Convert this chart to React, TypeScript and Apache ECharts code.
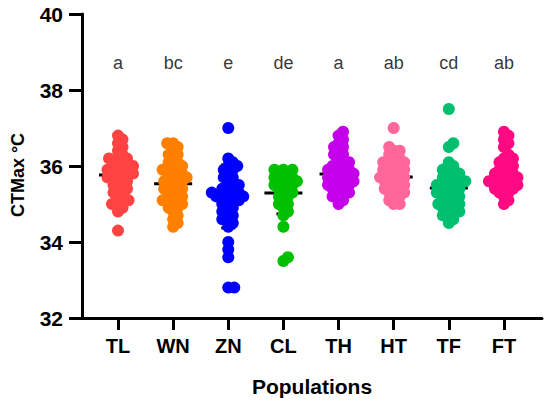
import React, { useEffect, useRef } from "react";
import * as echarts from "echarts";

const categories = ["TL", "WN", "ZN", "CL", "TH", "HT", "TF", "FT"];
const letters = ["a", "bc", "e", "de", "a", "ab", "cd", "ab"];
const colors = ["#FF4343", "#FF8000", "#0000FF", "#00C000", "#C400EA", "#FF6699", "#00C070", "#FF0A82"];
const means = [35.76, 35.53, 35.2, 35.29, 35.79, 35.71, 35.42, 35.68];
const sds = [0.5, 0.5, 0.83, 0.55, 0.45, 0.45, 0.6, 0.4];
const yTicks = [32, 34, 36, 38, 40];
const letterLevel = 38.7;

const tlValues = [36.8, 36.7, 36.6, 36.5, 36.4, 36.3, 36.2, 36.2, 36.2, 36.1, 36.1, 36.0, 36.0, 36.0, 35.9, 35.9, 35.9, 35.8, 35.8, 35.8, 35.7, 35.7, 35.7, 35.6, 35.6, 35.5, 35.5, 35.4, 35.4, 35.3, 35.3, 35.2, 35.1, 35.1, 35.0, 35.0, 34.9, 34.8, 34.3];
const wnValues = [36.6, 36.6, 36.5, 36.4, 36.3, 36.3, 36.2, 36.1, 36.1, 36.0, 36.0, 35.9, 35.9, 35.9, 35.8, 35.8, 35.7, 35.7, 35.7, 35.6, 35.6, 35.6, 35.5, 35.5, 35.4, 35.4, 35.4, 35.3, 35.3, 35.2, 35.2, 35.1, 35.1, 35.1, 35.0, 35.0, 34.9, 34.9, 34.8, 34.7, 34.6, 34.5, 34.4];
const znValues = [37.0, 36.2, 36.1, 36.0, 36.0, 35.9, 35.9, 35.8, 35.7, 35.7, 35.6, 35.5, 35.5, 35.4, 35.4, 35.3, 35.3, 35.3, 35.2, 35.2, 35.2, 35.2, 35.1, 35.1, 35.0, 35.0, 34.9, 34.8, 34.8, 34.7, 34.6, 34.6, 34.5, 34.4, 34.0, 33.8, 33.6, 32.8, 32.8];
const clValues = [35.9, 35.9, 35.9, 35.8, 35.8, 35.7, 35.7, 35.7, 35.6, 35.6, 35.6, 35.5, 35.5, 35.5, 35.4, 35.4, 35.3, 35.3, 35.2, 35.2, 35.1, 35.0, 35.0, 34.9, 34.8, 34.7, 34.4, 33.6, 33.5];
const thValues = [36.9, 36.8, 36.7, 36.6, 36.5, 36.5, 36.4, 36.3, 36.3, 36.2, 36.1, 36.1, 36.0, 36.0, 35.9, 35.9, 35.9, 35.8, 35.8, 35.8, 35.7, 35.7, 35.7, 35.6, 35.6, 35.6, 35.5, 35.5, 35.5, 35.4, 35.4, 35.3, 35.3, 35.2, 35.2, 35.1, 35.0];
const htValues = [37.0, 36.5, 36.4, 36.4, 36.3, 36.2, 36.2, 36.1, 36.1, 36.1, 36.0, 36.0, 35.9, 35.9, 35.9, 35.8, 35.8, 35.7, 35.7, 35.7, 35.6, 35.6, 35.6, 35.5, 35.5, 35.4, 35.4, 35.4, 35.3, 35.3, 35.2, 35.2, 35.1, 35.0, 35.0];
const tfValues = [37.5, 36.6, 36.5, 36.1, 36.0, 35.9, 35.9, 35.8, 35.8, 35.7, 35.7, 35.6, 35.6, 35.6, 35.5, 35.5, 35.5, 35.4, 35.4, 35.3, 35.3, 35.3, 35.2, 35.2, 35.1, 35.1, 35.0, 35.0, 35.0, 34.9, 34.9, 34.8, 34.8, 34.7, 34.7, 34.6, 34.5];
const ftValues = [36.9, 36.8, 36.7, 36.6, 36.5, 36.3, 36.2, 36.2, 36.1, 36.1, 36.0, 36.0, 35.9, 35.9, 35.8, 35.8, 35.8, 35.7, 35.7, 35.7, 35.6, 35.6, 35.6, 35.6, 35.5, 35.5, 35.5, 35.4, 35.4, 35.4, 35.3, 35.3, 35.2, 35.1, 35.0];

const groups = [tlValues, wnValues, znValues, clValues, thValues, htValues, tfValues, ftValues];

// layout constants
const W = 550;
const H = 404;
const GRID_LEFT = 82;
const GRID_RIGHT = 8;
const GRID_TOP = 14;
const GRID_BOTTOM = 86;
const X_MIN = -0.653;
const X_MAX = 7.69;
const Y_MIN = 32;
const Y_MAX = 40;
const PX_PER_CAT = (W - GRID_LEFT - GRID_RIGHT) / (X_MAX - X_MIN);
const PX_PER_DEG = (H - GRID_TOP - GRID_BOTTOM) / (Y_MAX - Y_MIN);
const DOT = 12;
const MIN_DIST = 5.5;
const STEP = 1.5;
const CAP_HALF = 7;
const MEAN_HALF = 19;
const FONT = "'Liberation Sans', Arial, Helvetica, sans-serif";

function swarm(vals: number[]): number[] {
  const idx = vals.map((v, i) => i).sort((a, b) => vals[a] - vals[b]);
  const placed: { x: number; y: number }[] = [];
  const offs = new Array(vals.length).fill(0);
  for (const i of idx) {
    const y = vals[i] * PX_PER_DEG;
    let chosen = 0;
    for (let k = 0; k < 60; k++) {
      const cands = k === 0 ? [0] : [k * STEP, -k * STEP];
      let found = false;
      for (const c of cands) {
        let ok = true;
        for (const p of placed) {
          const dy = p.y - y;
          if (Math.abs(dy) >= MIN_DIST) continue;
          const dx = p.x - c;
          if (dx * dx + dy * dy < MIN_DIST * MIN_DIST) {
            ok = false;
            break;
          }
        }
        if (ok) {
          chosen = c;
          found = true;
          break;
        }
      }
      if (found) break;
    }
    placed.push({ x: chosen, y });
    offs[i] = chosen;
  }
  return offs;
}

export default function App() {
  const ref = useRef<HTMLDivElement>(null);
  useEffect(() => {
    document.body.style.margin = "0";
    if (!ref.current) return;
    const chart = echarts.init(ref.current, undefined, { renderer: "svg" });

    const scatterSeries = groups.map((vals, gi) => {
      const offs = swarm(vals);
      return {
        type: "scatter",
        name: categories[gi],
        z: 3,
        symbol: "circle",
        symbolSize: DOT,
        itemStyle: { color: colors[gi], opacity: 1 },
        data: vals.map((v, i) => [gi + offs[i] / PX_PER_CAT, v]),
      };
    });

    const summary = {
      type: "custom",
      z: 2,
      data: means.map((m, i) => [i, m, sds[i]]),
      renderItem: (params: any, api: any) => {
        const i = api.value(0);
        const m = api.value(1);
        const sd = api.value(2);
        const c = api.coord([i, m]);
        const lo = api.coord([i, m - sd]);
        const hi = api.coord([i, m + sd]);
        const st = { stroke: "#000", lineWidth: 3 };
        return {
          type: "group",
          children: [
            { type: "line", shape: { x1: c[0] - MEAN_HALF, y1: c[1], x2: c[0] + MEAN_HALF, y2: c[1] }, style: st },
            { type: "line", shape: { x1: c[0], y1: lo[1], x2: c[0], y2: hi[1] }, style: st },
            { type: "line", shape: { x1: c[0] - CAP_HALF, y1: lo[1], x2: c[0] + CAP_HALF, y2: lo[1] }, style: st },
            { type: "line", shape: { x1: c[0] - CAP_HALF, y1: hi[1], x2: c[0] + CAP_HALF, y2: hi[1] }, style: st },
          ],
        };
      },
    };

    const letterSeries = {
      type: "scatter",
      z: 4,
      symbolSize: 1,
      itemStyle: { color: "rgba(0,0,0,0)" },
      label: {
        show: true,
        position: "inside",
        formatter: (p: any) => p.data[2],
        fontFamily: FONT,
        fontSize: 18,
        color: "#000",
      },
      data: letters.map((l, i) => [i, letterLevel, l]),
    };

    const option: any = {
      animation: false,
      backgroundColor: "#fff",
      grid: { left: GRID_LEFT, right: GRID_RIGHT, top: GRID_TOP, bottom: GRID_BOTTOM, containLabel: false },
      xAxis: {
        type: "value",
        min: X_MIN,
        max: X_MAX,
        name: "Populations",
        nameLocation: "middle",
        nameGap: 58,
        nameTextStyle: { fontFamily: FONT, fontSize: 21, fontWeight: "bold", color: "#000" },
        axisLine: { show: true, onZero: false, lineStyle: { color: "#000", width: 3 } },
        axisTick: { show: true, length: 12, lineStyle: { color: "#000", width: 3 }, customValues: categories.map((c, i) => i) },
        axisLabel: {
          customValues: categories.map((c, i) => i),
          formatter: (v: number) => categories[Math.round(v)] ?? "",
          fontFamily: FONT,
          fontSize: 20,
          fontWeight: "bold",
          color: "#000",
          margin: 18,
        },
        splitLine: { show: false },
      },
      yAxis: {
        type: "value",
        min: Y_MIN,
        max: Y_MAX,
        interval: 2,
        axisLine: { show: true, onZero: false, lineStyle: { color: "#000", width: 3 } },
        axisTick: { show: true, length: 13, lineStyle: { color: "#000", width: 3 }, customValues: yTicks },
        axisLabel: {
          customValues: yTicks,
          fontFamily: FONT,
          fontSize: 21,
          fontWeight: "bold",
          color: "#000",
          margin: 19,
        },
        splitLine: { show: false },
      },
      graphic: [
        {
          type: "text",
          x: 18,
          y: 175,
          rotation: Math.PI / 2,
          style: {
            text: "CTMax °C",
            font: `bold 18px ${FONT}`,
            fill: "#000",
            textAlign: "center",
            textVerticalAlign: "middle",
          },
        },
      ],
      series: [summary, ...scatterSeries, letterSeries],
    };
    chart.setOption(option);
    return () => chart.dispose();
  }, []);
  return <div ref={ref} style={{ width: W, height: H }} />;
}
